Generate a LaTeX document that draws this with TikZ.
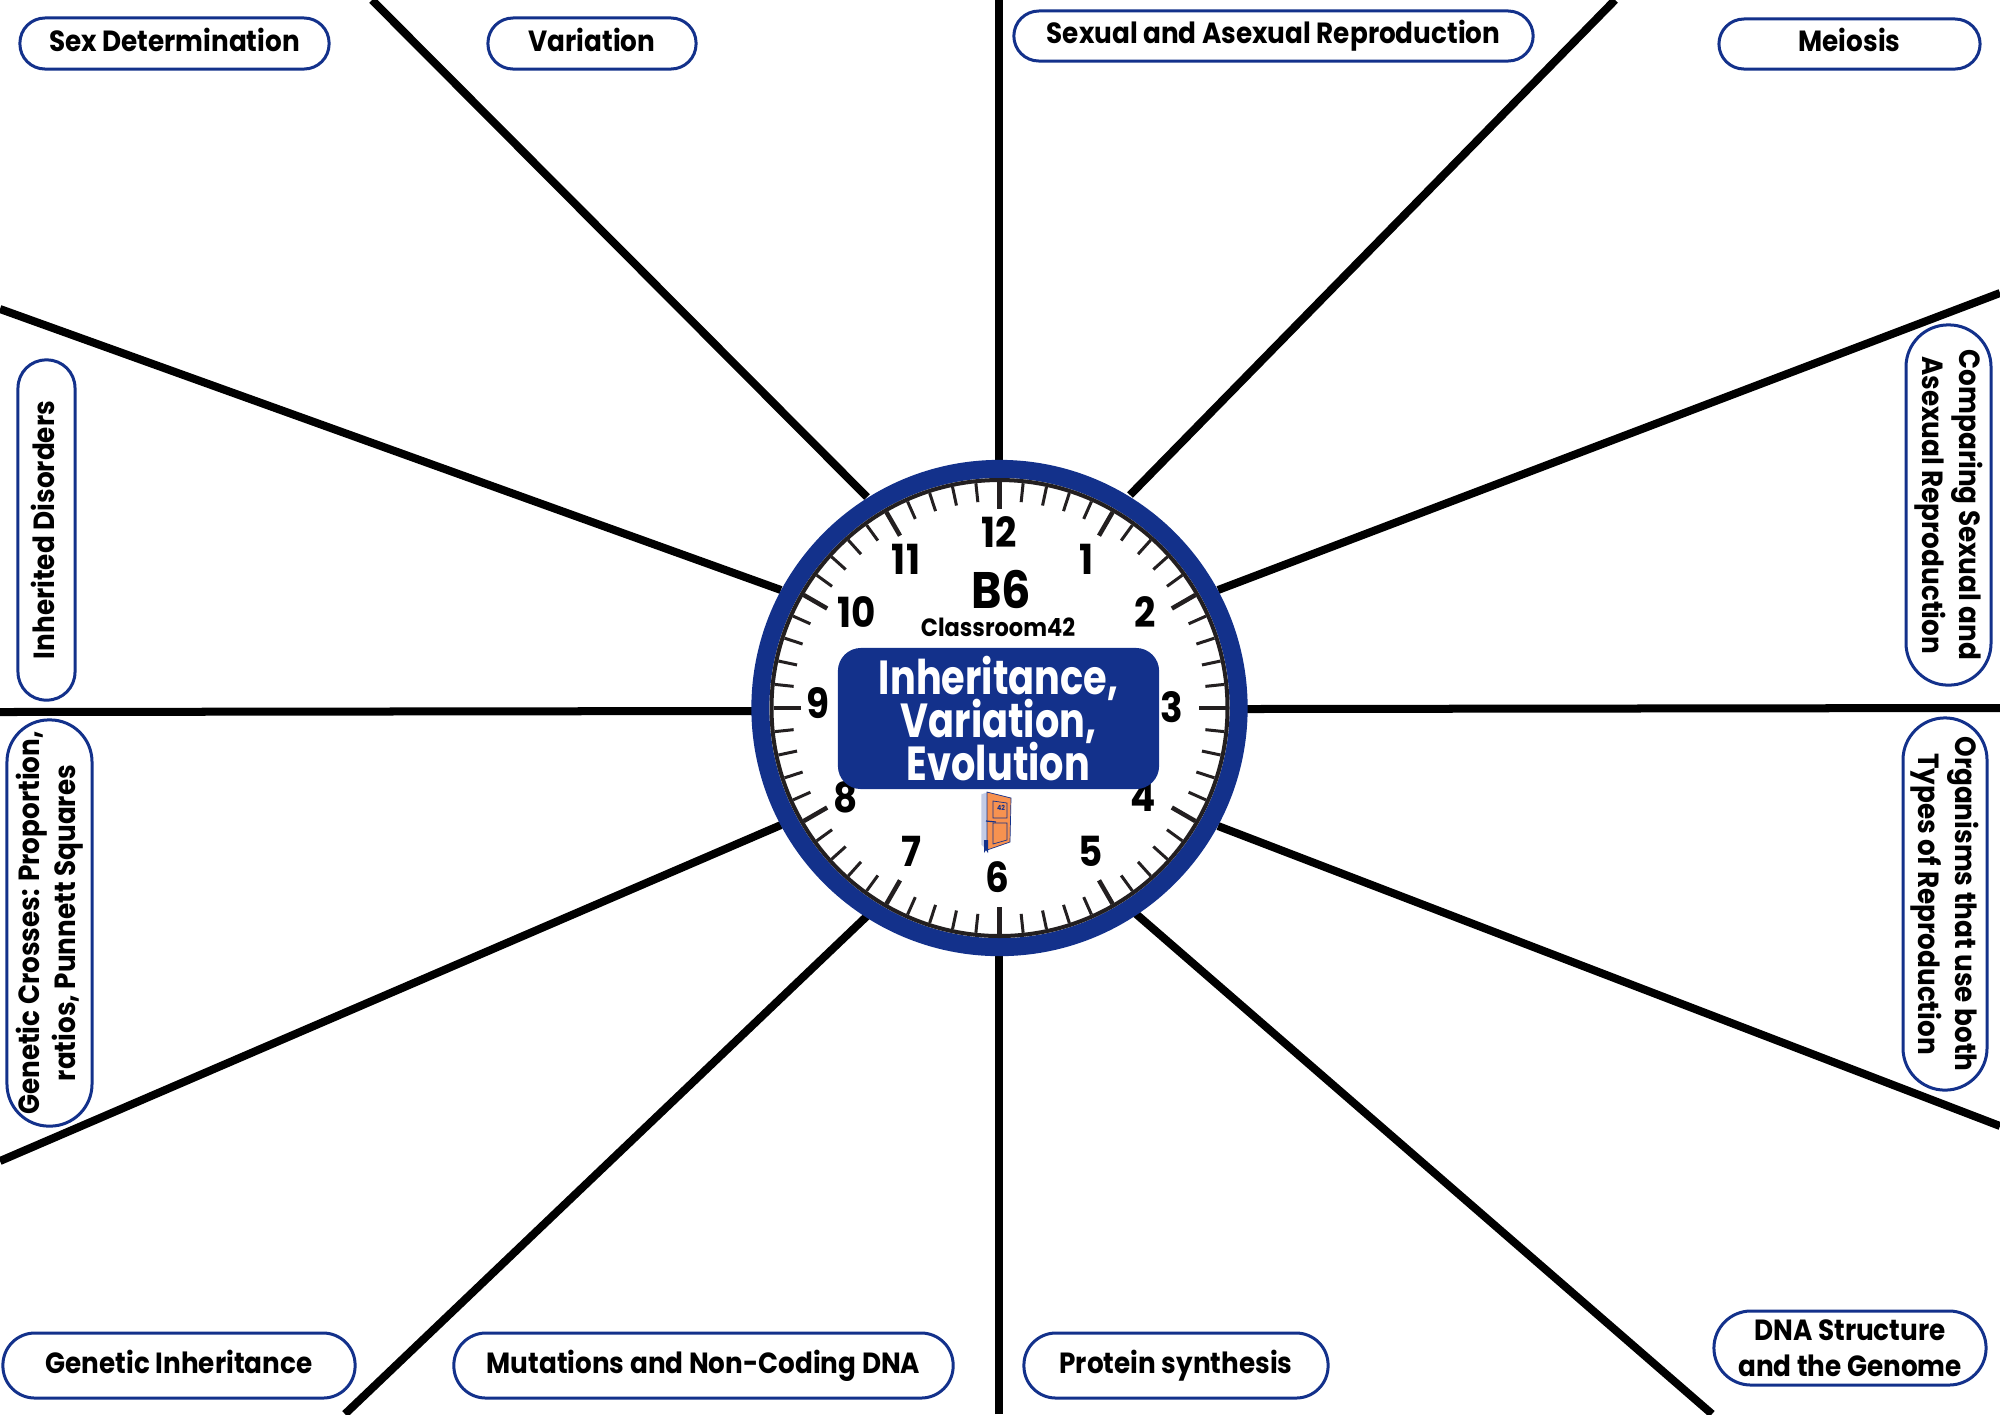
\documentclass[tikz,border=0pt]{standalone}
\usepackage{fontspec}
\setmainfont[FakeStretch=0.9]{Poppins}
\newfontfamily\titlefamily[FakeStretch=0.8]{Poppins}
\usetikzlibrary{calc}

\definecolor{clockblue}{HTML}{13318B}
\definecolor{clockdark}{HTML}{231F20}
\definecolor{doororange}{HTML}{F79250}
\definecolor{pagegrey}{HTML}{C3CCE6}

\tikzset{
  spoke/.style={line width=0.08cm,black},
  pill/.style={draw=clockblue,line width=0.03cm,fill=white,rounded corners=#1,
    inner sep=0pt,outer sep=0pt,align=center,
    font=\fontsize{8.3}{10.4}\selectfont\bfseries},
  oneline/.style={text height=6.2pt,text depth=1.9pt},
  hour/.style={inner sep=0pt,font=\fontsize{11.8}{12}\selectfont\bfseries},
}

\begin{document}
\begin{tikzpicture}[x=0.01cm,y=-0.01cm]
\useasboundingbox (0,0) rectangle (2000,1414);

\def\clockface{226}
\def\tickminor{207}
\def\tickmajor{199}

\coordinate (tlo) at (372,0);      \coordinate (tli) at (867,497);
\coordinate (to)  at (999,0);      \coordinate (ti)  at (999,470);
\coordinate (tro) at (1615,0);     \coordinate (tri) at (1130,495);
\coordinate (ruo) at (2000,293);   \coordinate (rui) at (1218,590);
\coordinate (ro)  at (2000,708);   \coordinate (ri)  at (1247,709);
\coordinate (rlo) at (2000,1126);  \coordinate (rli) at (1218,826);
\coordinate (bro) at (1712,1414);  \coordinate (bri) at (1135,913);
\coordinate (bo)  at (999,1414);   \coordinate (bi)  at (999,945);
\coordinate (blo) at (345,1414);   \coordinate (bli) at (867,916);
\coordinate (llo) at (0,1161);     \coordinate (lli) at (781,825);
\coordinate (lo)  at (0,712);      \coordinate (li)  at (752,711);
\coordinate (luo) at (0,309);      \coordinate (lui) at (781,590);

% lines
\draw[spoke] (tlo) -- (tli);
\draw[spoke] (to)  -- (ti);
\draw[spoke] (tro) -- (tri);
\draw[spoke] (ruo) -- (rui);
\draw[spoke] (ro)  -- (ri);
\draw[spoke] (rlo) -- (rli);
\draw[spoke] (bro) -- (bri);
\draw[spoke] (bo)  -- (bi);
\draw[spoke] (blo) -- (bli);
\draw[spoke] (llo) -- (lli);
\draw[spoke] (lo)  -- (li);
\draw[spoke] (luo) -- (lui);

% clock
\node[circle,draw=clockblue,fill=white,line width=0.18cm,minimum size=4.78cm,
  inner sep=0pt,outer sep=0pt] (clock) at (999.5,708) {};
\draw[clockdark,line width=0.04cm] (clock.center) circle (228);
\foreach \a in {0,6,...,354}
  \draw[clockdark,line width=0.03cm] ($(clock.center)+(\a:\clockface)$) -- ($(clock.center)+(\a:\tickminor)$);
\foreach \a in {0,30,...,330}
  \draw[clockdark,line width=0.045cm] ($(clock.center)+(\a:\clockface)$) -- ($(clock.center)+(\a:\tickmajor)$);

% numbers
\node[hour] (h12) at (999,532) {12};
\node[hour] (h1)  at (1087,559) {1};
\node[hour] (h2)  at (1145,612) {2};
\node[hour] (h3)  at (1172,707) {3};
\node[hour] (h4)  at (1143,797) {4};
\node[hour] (h5)  at (1091,851) {5};
\node[hour] (h6)  at (997,877) {6};
\node[hour] (h7)  at (911,851) {7};
\node[hour] (h8)  at (846,797) {8};
\node[hour] (h9)  at (818,703) {9};
\node[hour] (h10) at (857,612) {10};
\node[hour] (h11) at (906,559) {11};

% centre texts
\node[inner sep=0pt,font=\fontsize{14.6}{15}\selectfont\bfseries] (unit) at (1001,589) {B6};
\node[inner sep=0pt,font=\fontsize{7.1}{8}\selectfont\bfseries] (brand) at (998,627.5) {Classroom42};
\node[fill=clockblue,text=white,rounded corners=0.23cm,minimum width=3.21cm,minimum height=1.41cm,
  inner sep=0pt,align=center,font=\titlefamily\fontsize{13.6}{12.1}\selectfont\bfseries\setlength{\lineskiplimit}{-6pt}] (title) at (998.5,718.5)
  {Inheritance,\\Variation,\\Evolution};

% book door
\filldraw[pagegrey,draw=white,line width=0.005cm] (981,794) -- (987,792) -- (987,850) -- (981,845) -- cycle;
\filldraw[fill=doororange,draw=clockblue,line width=0.007cm] (987,792) -- (1011,798) -- (1010,842) -- (987,850) -- cycle;
\draw[clockblue,line width=0.007cm] (993,801) -- (1007,803) -- (1007,818) -- (993,818) -- cycle;
\draw[clockblue,line width=0.007cm] (993,823) -- (1007,823) -- (1007,840) -- (993,844) -- cycle;
\draw[clockblue,line width=0.012cm] (986,821) -- (996,822);
\fill[clockblue] (984,840) -- (988,840) -- (988,853) -- (986,850) -- (984,853) -- cycle;
\node[inner sep=0pt,text=clockblue,font=\fontsize{2}{2}\selectfont\bfseries] (doornum) at (1001,808) {42};

% labels
\node[pill=0.25cm,oneline,minimum width=3.09cm,minimum height=0.51cm] (sexdet) at (174.5,43.5) {Sex Determination};
\node[pill=0.25cm,oneline,minimum width=2.08cm,minimum height=0.51cm] (variation) at (592,43.5) {Variation};
\node[pill=0.25cm,oneline,minimum width=5.19cm,minimum height=0.50cm] (sexasex) at (1273.5,36) {Sexual and Asexual Reproduction};
\node[pill=0.25cm,oneline,minimum width=2.61cm,minimum height=0.50cm] (meiosis) at (1849.5,44) {Meiosis};
\node[pill=0.28cm,oneline,rotate=90,minimum width=3.40cm,minimum height=0.57cm] (disorders) at (46.5,530) {Inherited Disorders};
\node[pill=0.42cm,rotate=90,minimum width=4.06cm,minimum height=0.85cm] (crosses) at (49.5,923) {Genetic Crosses: Proportion,\\ratios, Punnett Squares};
\node[pill=0.42cm,rotate=-90,minimum width=3.60cm,minimum height=0.85cm] (comparing) at (1948.5,505) {Comparing Sexual and\\Asexual Reproduction};
\node[pill=0.42cm,rotate=-90,minimum width=3.72cm,minimum height=0.84cm] (organisms) at (1945,904) {Organisms that use both\\Types of Reproduction};
\node[pill=0.32cm,oneline,minimum width=3.52cm,minimum height=0.65cm] (inheritance) at (179,1365.5) {Genetic Inheritance};
\node[pill=0.32cm,oneline,minimum width=4.99cm,minimum height=0.65cm] (mutations) at (703.5,1365.5) {Mutations and Non-Coding DNA};
\node[pill=0.32cm,oneline,minimum width=3.04cm,minimum height=0.65cm] (protein) at (1176,1365.5) {Protein synthesis};
\node[pill=0.37cm,minimum width=2.72cm,minimum height=0.74cm] (dna) at (1850,1348) {DNA Structure\\and the Genome};
\end{tikzpicture}
\end{document}
